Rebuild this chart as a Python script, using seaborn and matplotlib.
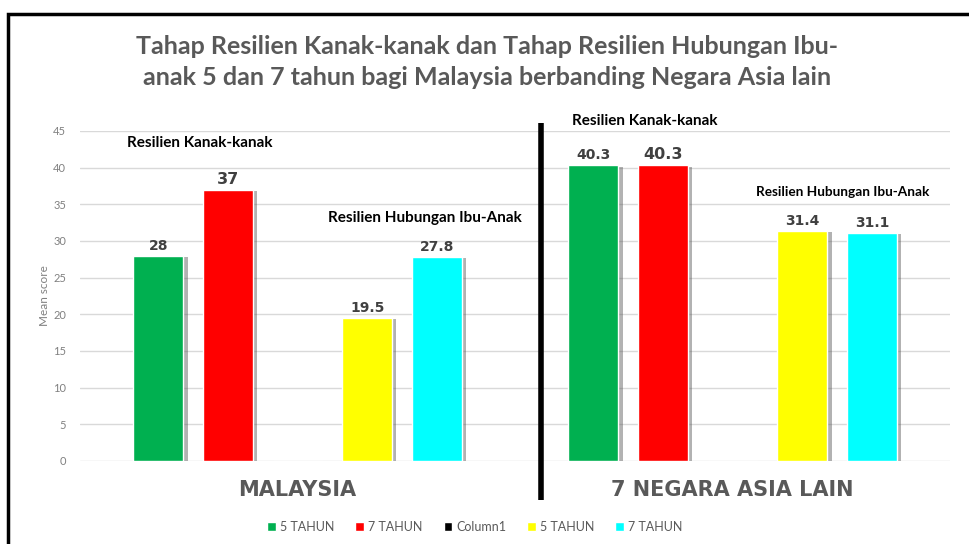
import matplotlib
matplotlib.use('Agg')
import matplotlib.pyplot as plt
import matplotlib.patheffects as pe
from matplotlib.patches import Rectangle, Patch
import seaborn as sns
import pandas as pd

# data
categories = ['MALAYSIA', '7 NEGARA ASIA LAIN']
series_keys = ['s5a', 's7a', 'col1', 's5b', 's7b']
series_labels = ['5 TAHUN', '7 TAHUN', 'Column1', '5 TAHUN', '7 TAHUN']
series_colors = ['#00B050', '#FF0000', '#000000', '#FFFF00', '#00FFFF']
green_5 = [28, 40.3]
red_7 = [37, 40.3]
column1 = [0, 0]
yellow_5 = [19.5, 31.4]
cyan_7 = [27.8, 31.1]

rows = []
for key, vals in zip(series_keys, [green_5, red_7, column1, yellow_5, cyan_7]):
    for cat, v in zip(categories, vals):
        rows.append({'cat': cat, 'series': key, 'score': v})
df = pd.DataFrame(rows)

sns.set_style('white')
plt.rcParams['font.family'] = ['Lato', 'DejaVu Sans']

fig = plt.figure(figsize=(9.69, 5.44), dpi=100)
ax = fig.add_axes([0.0826, 0.1526, 0.898, 0.6067])

sns.barplot(data=df, x='cat', y='score', hue='series', hue_order=series_keys,
            palette=dict(zip(series_keys, series_colors)), width=0.8, gap=0.28,
            saturation=1, legend=False, ax=ax)

shadow = [pe.SimplePatchShadow(offset=(3, -1), shadow_rgbFace='#555555', alpha=0.45), pe.Normal()]
for c in ax.containers:
    for p in c.patches:
        p.set_path_effects(shadow)

# value labels
for i, c in enumerate(ax.containers):
    if series_keys[i] == 'col1':
        continue
    for j, p in enumerate(c.patches):
        v = p.get_height()
        big = (i == 1)
        ax.text(p.get_x() + p.get_width() / 2, v + 0.4, f'{v:g}',
                ha='center', va='bottom', color='#404040',
                fontsize=11.5 if big else 10, fontweight='bold',
                family=['DejaVu Sans'])

ax.set_ylim(0, 45)
ax.set_xlim(-0.5, 1.5)
ax.set_yticks(range(0, 46, 5))
ax.yaxis.grid(True, color='#D9D9D9', linewidth=1)
ax.set_axisbelow(True)
for s in ax.spines.values():
    s.set_visible(False)
ax.tick_params(axis='y', colors='#808080', labelsize=8, length=0, pad=10)
ax.set_ylabel('Mean score', color='#808080', fontsize=8.5, labelpad=2)
ax.set_xlabel('')
ax.set_xticks([0, 1])
ax.set_xticklabels(categories, fontsize=15, fontweight='heavy', color='#595959',
                   family=['DejaVu Sans'])
ax.tick_params(axis='x', length=0, pad=14)

# separator line
ax.plot([0.56, 0.56], [-5.3, 46.1], color='black', linewidth=4, clip_on=False,
        solid_capstyle='butt')

# group notes
note_kw = dict(ha='center', va='center', fontweight='bold', color='black')
ax.text(-0.226, 43.4, 'Resilien Kanak-kanak', fontsize=11, **note_kw)
ax.text(0.293, 33.1, 'Resilien Hubungan Ibu-Anak', fontsize=11, **note_kw)
ax.text(0.799, 46.4, 'Resilien Kanak-kanak', fontsize=11, **note_kw)
ax.text(1.254, 36.7, 'Resilien Hubungan Ibu-Anak', fontsize=9.8, **note_kw)

fig.text(0.503, 0.886, 'Tahap Resilien Kanak-kanak dan Tahap Resilien Hubungan Ibu-\nanak 5 dan 7 tahun bagi Malaysia berbanding Negara Asia lain',
         ha='center', va='center', fontsize=18, fontweight='bold', color='#595959',
         linespacing=1.45)

handles = [Patch(facecolor=col) for col in series_colors]
fig.legend(handles, series_labels, loc='center', bbox_to_anchor=(0.49, 0.032), ncol=5,
           frameon=False, fontsize=9, handlelength=0.7, handleheight=0.7,
           handletextpad=0.3, columnspacing=1.7, labelcolor='#595959')

fig.patches.append(Rectangle((8 / 969, -0.2), 1.2, 1.2 - 14 / 544, transform=fig.transFigure,
                             fill=False, edgecolor='black', linewidth=2.5, zorder=10))

fig.savefig('out.png', dpi=100)
